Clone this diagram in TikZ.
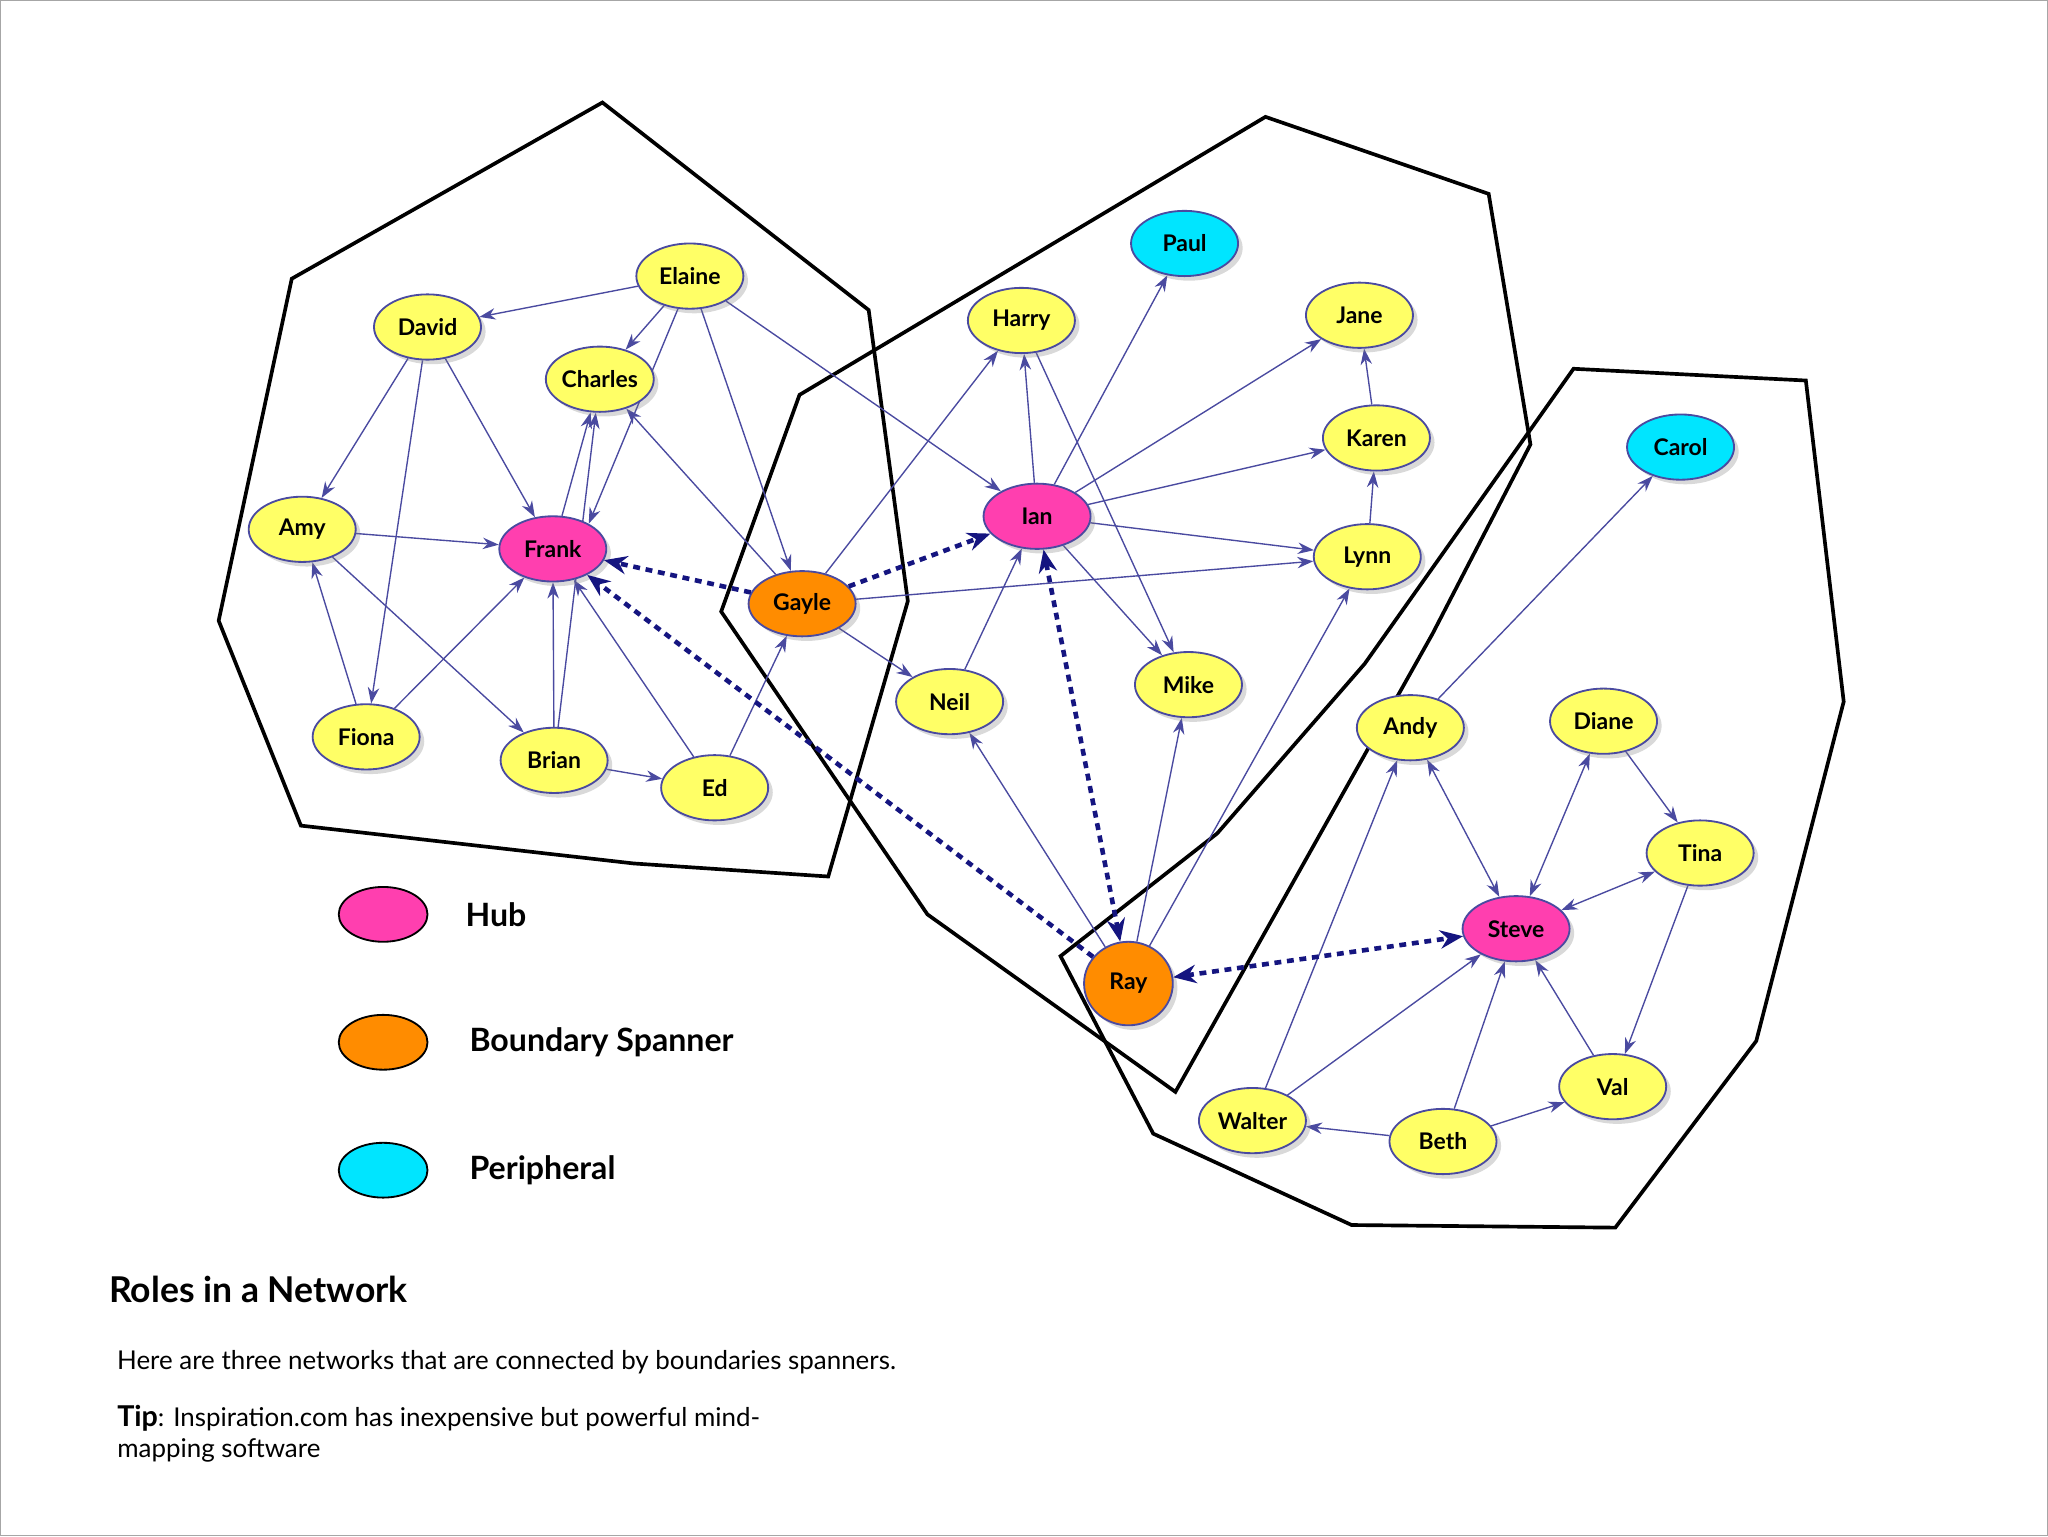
\documentclass[tikz,border=0pt]{standalone}
\usepackage{fontspec}
\setmainfont{Lato}
\usetikzlibrary{shapes.geometric,arrows.meta,backgrounds,shadows}
\definecolor{ylw}{HTML}{FFFF66}
\definecolor{hub}{HTML}{FF3FAF}
\definecolor{bsp}{HTML}{FF8C00}
\definecolor{per}{HTML}{00E5FF}
\definecolor{edg}{HTML}{4A4AA0}
\definecolor{dsh}{HTML}{151580}
\newlength{\pxu}\setlength{\pxu}{0.02cm}
\tikzset{
 pers/.style={ellipse,draw=edg,line width=0.8pt,minimum width=82\pxu,minimum height=50\pxu,inner sep=0pt,font=\bfseries\fontsize{10}{12}\selectfont,drop shadow={shadow xshift=2pt,shadow yshift=-2pt,opacity=0.3}},
 py/.style={pers,fill=ylw}, ph/.style={pers,fill=hub}, pb/.style={pers,fill=bsp}, pc/.style={pers,fill=per},
 ed/.style={draw=edg,line width=0.6pt,-{Stealth[length=7pt,width=5pt]}},
 bed/.style={ed,{Stealth[length=7pt,width=5pt]}-{Stealth[length=7pt,width=5pt]}},
 dl/.style={draw=dsh,line width=2pt,dash pattern=on 3pt off 2.5pt,-{Stealth[length=10pt,width=8pt]}},
 bdl/.style={dl,{Stealth[length=10pt,width=8pt]}-{Stealth[length=10pt,width=8pt]}},
 poly/.style={draw=black,line width=1.6pt},
 leg/.style={ellipse,draw=black,line width=0.8pt,minimum width=68\pxu,minimum height=42\pxu},
 lt/.style={anchor=west,font=\bfseries\fontsize{14}{16}\selectfont}
}
\begin{document}
\begin{tikzpicture}[x={(0.02cm,0cm)},y={(0cm,-0.02cm)}]
\draw[gray!70,line width=0.6pt] (0,0) rectangle (1568,1176);
\useasboundingbox (0,0) rectangle (1568,1176);
\node[py] (Elaine) at (528,211) {Elaine};
\node[py] (David) at (327,250) {David};
\node[py] (Charles) at (459,290) {Charles};
\node[py] (Amy) at (231,405) {Amy};
\node[ph] (Frank) at (423,420) {Frank};
\node[py] (Fiona) at (280,564) {Fiona};
\node[py] (Brian) at (424,582) {Brian};
\node[py] (Ed) at (547,603) {Ed};
\node[pb] (Gayle) at (614,462) {Gayle};
\node[py] (Harry) at (782,245) {Harry};
\node[pc] (Paul) at (907,186) {Paul};
\node[py] (Jane) at (1041,241) {Jane};
\node[py] (Karen) at (1054,335) {Karen};
\node[ph] (Ian) at (794,395) {Ian};
\node[py] (Lynn) at (1047,426) {Lynn};
\node[py] (Neil) at (727,537) {Neil};
\node[py] (Mike) at (910,524) {Mike};
\node[pb,minimum width=68\pxu,minimum height=64\pxu] (Ray) at (864,753) {Ray};
\node[pc] (Carol) at (1287,342) {Carol};
\node[py] (Andy) at (1080,557) {Andy};
\node[py] (Diane) at (1228,552) {Diane};
\node[py] (Tina) at (1302,653) {Tina};
\node[ph] (Steve) at (1161,711) {Steve};
\node[py] (Val) at (1235,832) {Val};
\node[py] (Walter) at (959,858) {Walter};
\node[py] (Beth) at (1105,874) {Beth};
\begin{scope}[on background layer]
\draw[poly] (461,78)--(665,237)--(695,460)--(634,671)--(485,661)--(230,632)--(167,475)--(223,213)--cycle;
\draw[poly] (612,302)--(969,89)--(1140,148)--(1172,340)--(1097,485)--(900,836)--(710,700)--(552,468)--cycle;
\draw[poly] (1205,282)--(1383,291)--(1412,537)--(1345,797)--(1237,940)--(1035,938)--(883,868)--(812,732)--(932,638)--(1045,508)--cycle;
\draw[ed] (Elaine)--(David); \draw[ed] (Elaine)--(Charles); \draw[ed] (Elaine.-110)--(Frank.35);
\draw[ed] (Elaine)--(Gayle); \draw[ed] (Elaine)--(Ian);
\draw[ed] (David)--(Amy); \draw[ed] (David)--(Frank); \draw[ed] (David)--(Fiona);
\draw[ed] (Amy)--(Frank); \draw[ed] (Amy)--(Brian);
\draw[ed] (Fiona)--(Amy); \draw[ed] (Fiona)--(Frank);
\draw[ed] (Frank)--(Charles); \draw[ed] (Brian)--(Charles); \draw[ed] (Gayle)--(Charles);
\draw[ed] (Brian)--(Frank); \draw[ed] (Brian)--(Ed); \draw[ed] (Ed)--(Frank); \draw[ed] (Ed)--(Gayle);
\draw[ed] (Gayle)--(Neil); \draw[ed] (Gayle)--(Lynn); \draw[ed] (Gayle)--(Harry);
\draw[ed] (Ian)--(Harry); \draw[ed] (Ian)--(Paul); \draw[ed] (Ian)--(Jane); \draw[ed] (Ian)--(Karen);
\draw[ed] (Ian)--(Lynn); \draw[ed] (Ian)--(Mike); \draw[ed] (Neil)--(Ian); \draw[ed] (Harry)--(Mike);
\draw[ed] (Karen)--(Jane); \draw[ed] (Lynn)--(Karen);
\draw[ed] (Ray)--(Neil); \draw[ed] (Ray)--(Mike); \draw[ed] (Ray)--(Lynn);
\draw[ed] (Andy)--(Carol); \draw[bed] (Andy)--(Steve); \draw[bed] (Diane)--(Steve);
\draw[ed] (Diane)--(Tina); \draw[bed] (Tina)--(Steve); \draw[ed] (Tina)--(Val); \draw[ed] (Val)--(Steve);
\draw[ed] (Walter)--(Andy); \draw[ed] (Walter)--(Steve); \draw[ed] (Beth)--(Walter);
\draw[ed] (Beth)--(Steve); \draw[ed] (Beth)--(Val);
\end{scope}
\draw[dl] (Gayle)--(Frank); \draw[dl] (Gayle)--(Ian); \draw[dl] (Ray)--(Frank);
\draw[bdl] (Ian)--(Ray); \draw[bdl] (Ray)--(Steve);
\node[leg,fill=hub] (L1) at (293,700) {}; \node[lt] (T1) at (350,700) {Hub};
\node[leg,fill=bsp] (L2) at (293,798) {}; \node[lt] (T2) at (353,798) {Boundary Spanner};
\node[leg,fill=per] (L3) at (293,896) {}; \node[lt] (T3) at (353,896) {Peripheral};
\node[anchor=west,font=\bfseries\fontsize{15.5}{18}\selectfont] (title) at (77,987) {Roles in a Network};
\node[anchor=west,font=\fontsize{11.3}{13}\selectfont] (t1) at (83,1043) {Here are three networks that are connected by boundaries spanners.};
\node[anchor=north west,align=left,font=\fontsize{11.3}{13.3}\selectfont,inner sep=0pt] (t2) at (89,1076) {\textbf{\fontsize{12.5}{13.3}\selectfont Tip}: Inspiration.com has inexpensive but powerful mind-\\mapping software};
\end{tikzpicture}
\end{document}
